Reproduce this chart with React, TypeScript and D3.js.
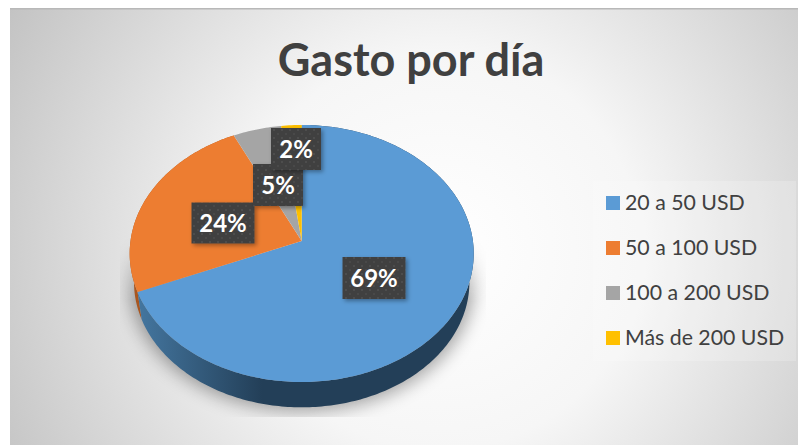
import React from "react";
import * as d3 from "d3";

const categories = ["20 a 50 USD", "50 a 100 USD", "100 a 200 USD", "Más de 200 USD"];
const values = [68.7, 24.2, 5.0, 2.1];
const colors = ["#5B9BD5", "#ED7D31", "#A5A5A5", "#FFC000"];
const title = "Gasto por día";
const labelBoxes = [
  { cx: 374, cy: 278, w: 63, h: 42 },
  { cx: 223, cy: 223, w: 63, h: 41 },
  { cx: 278, cy: 185, w: 50, h: 42 },
  { cx: 296, cy: 149, w: 50, h: 42 },
];

const W = 798, H = 445;
const apexX = 301.7, apexY = 241;
const persp = 0.0973, kx = 171.2, ky = 127.3;
const rimScale = 0.975, rimMidY = 253.5, lowerMidY = 282;

function project(theta: number): [number, number] {
  const u = Math.sin(theta), v = -Math.cos(theta);
  const d = 1 - persp * v;
  return [apexX + (kx * u) / d, apexY + (ky * v) / d];
}
const lower = ([x, y]: [number, number]): [number, number] => [
  apexX + (x - apexX) * rimScale,
  lowerMidY + (y - rimMidY) * rimScale,
];
const pie = d3.pie<number>().sort(null).value((d) => d).startAngle(0).endAngle(2 * Math.PI);
const arcs = pie(values);
const line = d3.line<[number, number]>();
const rim = (a: number, b: number) => {
  const n = Math.max(2, Math.ceil(Math.abs(b - a) * 60));
  return d3.range(n + 1).map((i) => project(a + ((b - a) * i) / n));
};
const wedge = (a: number, b: number) => line([[apexX, apexY], ...rim(a, b)]) + "Z";
const side = (a: number, b: number) => {
  const pts = rim(a, b);
  return line([...pts, ...pts.map(lower).reverse()]) + "Z";
};
const full = rim(0, 2 * Math.PI);
const shadowPath = line(full.map(([x, y]) => [x, y + 29] as [number, number])) + "Z";

const legendY = d3.scalePoint<string>().domain(categories).range([203, 338]);

export default function App() {
  return (
    <svg width={W} height={H} style={{ position: "absolute", left: 0, top: 0, fontFamily: "Lato, Carlito, sans-serif" }}>
      <defs>
        <radialGradient id="bg" gradientUnits="userSpaceOnUse" cx={440} cy={250} r={500}>
          <stop offset="0" stopColor="#ffffff" />
          <stop offset="0.4" stopColor="#f6f6f6" />
          <stop offset="1" stopColor="#c2c2c2" />
        </radialGradient>
        <linearGradient id="sideBlue" gradientUnits="userSpaceOnUse" x1={138} x2={262} y1={0} y2={0}>
          <stop offset="0" stopColor="#44769f" />
          <stop offset="1" stopColor="#233f58" />
        </linearGradient>
        <linearGradient id="fade" gradientUnits="userSpaceOnUse" x1={0} x2={0} y1={235} y2={300}>
          <stop offset="0" stopColor="#000" />
          <stop offset="1" stopColor="#fff" />
        </linearGradient>
        <mask id="shadowMask" maskUnits="userSpaceOnUse" x={0} y={0} width={W} height={H}>
          <rect x={120} y={235} width={366} height={182} fill="url(#fade)" />
        </mask>
        <filter id="blur" x="-20%" y="-20%" width="140%" height="140%">
          <feGaussianBlur stdDeviation="9" />
        </filter>
        <filter id="ds" x="-30%" y="-30%" width="160%" height="160%">
          <feDropShadow dx="2" dy="2" stdDeviation="2" floodColor="#000" floodOpacity="0.35" />
        </filter>
        <pattern id="dots" width="8" height="8" patternUnits="userSpaceOnUse">
          <rect width="8" height="8" fill="#404040" />
          <circle cx="2" cy="2" r="0.9" fill="#545454" />
          <circle cx="6" cy="6" r="0.9" fill="#4c4c4c" />
        </pattern>
      </defs>
      <rect x={10} y={8} width={788} height={437} fill="url(#bg)" />
      <rect x={10} y={8} width={788} height={1.5} fill="#b8b8b8" />
      <text x={411} y={76} textAnchor="middle" fontSize={45} fontWeight={700} fill="#404040">{title}</text>

      <g mask="url(#shadowMask)">
        <path d={shadowPath} fill="#000" opacity={0.36} filter="url(#blur)" />
      </g>
      <path d={side(arcs[1].startAngle, arcs[1].endAngle)} fill="#a9561f" />
      <path d={side(arcs[0].startAngle, arcs[0].endAngle)} fill="url(#sideBlue)" />
      {arcs.map((a, i) => (
        <path key={i} d={wedge(a.startAngle, a.endAngle)} fill={colors[i]} />
      ))}

      {labelBoxes.map((b, i) => (
        <g key={i}>
          <rect x={b.cx - b.w / 2} y={b.cy - b.h / 2} width={b.w} height={b.h} fill="url(#dots)" filter="url(#ds)" />
          <text x={b.cx} y={b.cy + 8.5} textAnchor="middle" fontSize={24} fontWeight={700} fill="#fff">
            {Math.round(values[i])}%
          </text>
        </g>
      ))}

      <rect x={593} y={181} width={203} height={180} fill="#fff" opacity={0.2} />
      {categories.map((c, i) => (
        <g key={c}>
          <rect x={606} y={legendY(c)! - 7} width={14} height={14} fill={colors[i]} />
          <text x={625} y={legendY(c)! + 7} fontSize={21.3} fill="#404040">{c}</text>
        </g>
      ))}
    </svg>
  );
}
